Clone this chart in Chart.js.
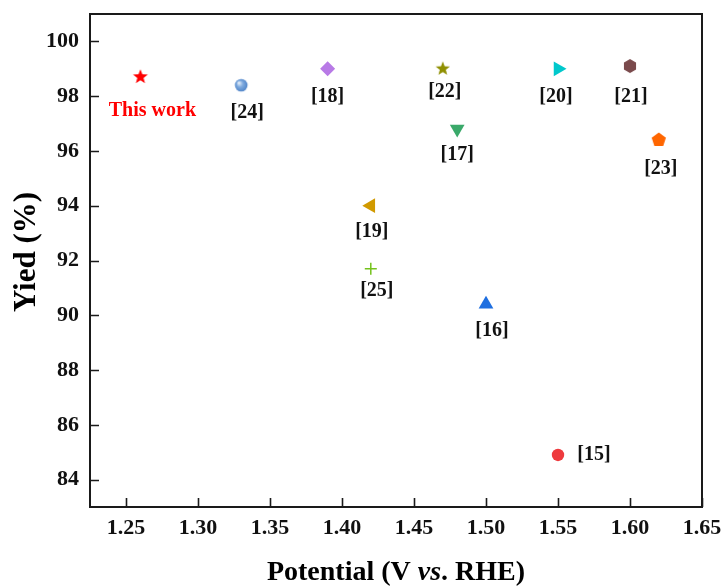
<!DOCTYPE html>
<html>
<head>
<meta charset="utf-8">
<script src="https://cdn.jsdelivr.net/npm/chart.js@4.4.0/dist/chart.umd.min.js"></script>
<style>
  html, body { margin: 0; padding: 0; background: #fff; }
  #wrap { width: 726px; height: 588px; }
</style>
</head>
<body>
<div id="wrap"><canvas id="yieldChart"></canvas></div>
<script>
// referencias comparadas: potencial vs rendimiento
const refLabels = ['This work', '[24]', '[18]', '[22]', '[17]', '[19]', '[25]', '[16]', '[20]', '[15]', '[21]', '[23]'];
const potentials = [1.26, 1.33, 1.39, 1.47, 1.48, 1.42, 1.42, 1.50, 1.55, 1.55, 1.60, 1.62];
const yields = [98.7, 98.4, 99.0, 99.0, 96.8, 94.0, 91.7, 90.4, 99.0, 84.9, 99.1, 96.4];
const xTicks = [1.25, 1.30, 1.35, 1.40, 1.45, 1.50, 1.55, 1.60, 1.65];
const yTicks = [84, 86, 88, 90, 92, 94, 96, 98, 100];

const FONT = "'Liberation Serif', 'Times New Roman', serif";

// marcadores dibujados a mano
const makeMarker = (size, draw) => {
    const c = document.createElement('canvas');
    c.width = size;
    c.height = size;
    draw(c.getContext('2d'), size / 2);
    return c;
}
const polygon = (ctx, c, n, r, color) => {
    ctx.beginPath();
    for (let i = 0; i < n; i++) {
        const a = -Math.PI / 2 + i * 2 * Math.PI / n;
        ctx.lineTo(c + r * Math.cos(a), c + r * Math.sin(a));
    }
    ctx.closePath();
    ctx.fillStyle = color;
    ctx.fill();
}
const star = (color, r) => makeMarker(20, (ctx, c) => {
    ctx.beginPath();
    for (let i = 0; i < 10; i++) {
        const a = -Math.PI / 2 + i * Math.PI / 5;
        const rr = i % 2 === 0 ? r : r * 0.42;
        ctx.lineTo(c + rr * Math.cos(a), c + rr * Math.sin(a));
    }
    ctx.closePath();
    ctx.fillStyle = color;
    ctx.fill();
});
const sphere = makeMarker(16, (ctx, c) => {
    const g = ctx.createRadialGradient(c - 2.5, c - 2.5, 0.5, c, c, 6.5);
    g.addColorStop(0, '#e4eefa');
    g.addColorStop(0.45, '#7eaade');
    g.addColorStop(1, '#4f84c8');
    ctx.beginPath();
    ctx.arc(c, c, 6.3, 0, 2 * Math.PI);
    ctx.fillStyle = g;
    ctx.fill();
});
const hexagon = makeMarker(18, (ctx, c) => polygon(ctx, c, 6, 7, '#7a4a4c'));
const pentagon = makeMarker(18, (ctx, c) => polygon(ctx, c, 5, 7.5, '#ff6600'));

const pointStyles = [star('#ff0000', 7.8), sphere, 'rectRot', star('#8f8f00', 7.5), 'triangle', 'triangle', 'cross', 'triangle', 'triangle', 'circle', hexagon, pentagon];
const rotations = [0, 0, 0, 0, 180, 270, 0, 0, 90, 0, 0, 0];
const radii = [7, 6, 7.5, 7, 8.5, 8.5, 6, 8.5, 8.5, 6.2, 7, 7];
const colors = ['#ff0000', '#6a9ad6', '#b87ae6', '#8f8f00', '#3aa96a', '#d19a00', '#74c21c', '#1f6fe0', '#00c8cc', '#ee3a3e', '#7a4a4c', '#ff6600'];
// desplazamiento de cada etiqueta respecto al punto
const labelOffsets = [[12, 34], [6, 28], [0, 28], [2, 23], [0, 26], [1, 26], [6, 22], [6, 27], [-2, 28], [36, 0], [1, 31], [2, 29]];

const points = potentials.map((p, i) => ({ x: p, y: yields[i] }));

// marco completo y ticks hacia adentro
const framePlugin = {
    id: 'frame',
    afterDraw(chart) {
        const { ctx, chartArea: a, scales } = chart;
        ctx.save();
        ctx.strokeStyle = '#1a1a1a';
        ctx.lineWidth = 2;
        ctx.strokeRect(a.left, a.top, a.right - a.left, a.bottom - a.top);
        ctx.lineWidth = 1.6;
        ctx.beginPath();
        xTicks.forEach(v => {
            const px = Math.round(scales.x.getPixelForValue(v)) + 0.5;
            ctx.moveTo(px, a.bottom);
            ctx.lineTo(px, a.bottom - 9);
        });
        yTicks.forEach(v => {
            const py = Math.round(scales.y.getPixelForValue(v)) + 0.5;
            ctx.moveTo(a.left, py);
            ctx.lineTo(a.left + 9, py);
        });
        ctx.stroke();

        // titulos de los ejes
        ctx.fillStyle = '#000';
        ctx.textBaseline = 'alphabetic';
        const parts = [
            ['bold', 'Potential (V '],
            ['italic bold', 'vs'],
            ['bold', '. RHE)']
        ];
        let total = 0;
        parts.forEach(p => {
            ctx.font = p[0] + ' 28px ' + FONT;
            total += ctx.measureText(p[1]).width;
        });
        let x = (a.left + a.right) / 2 - total / 2;
        parts.forEach(p => {
            ctx.font = p[0] + ' 28px ' + FONT;
            ctx.fillText(p[1], x, 580);
            x += ctx.measureText(p[1]).width;
        });

        ctx.translate(27, 252);
        ctx.rotate(-Math.PI / 2);
        ctx.font = 'bold 31px ' + FONT;
        ctx.textAlign = 'center';
        ctx.textBaseline = 'middle';
        ctx.fillText('Yied (%)', 0, 0);
        ctx.restore();
    }
}

const labelPlugin = {
    id: 'pointLabels',
    afterDatasetsDraw(chart) {
        const { ctx } = chart;
        const meta = chart.getDatasetMeta(0);
        ctx.save();
        ctx.textAlign = 'center';
        ctx.textBaseline = 'middle';
        meta.data.forEach((el, i) => {
            const [dx, dy] = labelOffsets[i];
            ctx.font = 'bold 20px ' + FONT;
            ctx.fillStyle = i === 0 ? '#ff0000' : '#111';
            ctx.fillText(refLabels[i], el.x + dx, el.y + dy);
        });
        ctx.restore();
    }
}

new Chart('yieldChart', {
    type: 'scatter',
    data: {
        datasets: [{
            data: points,
            pointStyle: pointStyles,
            rotation: rotations,
            pointRadius: radii,
            pointHoverRadius: radii,
            backgroundColor: colors,
            borderColor: colors,
            borderWidth: pointStyles.map(s => s === 'cross' ? 1.5 : 0)
        }]
    },
    options: {
        responsive: true,
        maintainAspectRatio: false,
        animation: false,
        layout: { padding: { top: 14, right: 24, left: 0, bottom: 0 } },
        plugins: {
            legend: { display: false },
            tooltip: { enabled: false }
        },
        scales: {
            x: {
                type: 'linear',
                min: 1.225,
                max: 1.65,
                afterBuildTicks: s => { s.ticks = xTicks.map(v => ({ value: v })); },
                afterFit: s => { s.height = 81; s.paddingLeft = 0; s.paddingRight = 0; },
                grid: { display: false, drawTicks: false },
                border: { display: false },
                ticks: {
                    padding: 8,
                    color: '#111',
                    font: { family: FONT, size: 22, weight: 'bold' },
                    callback: v => v.toFixed(2)
                }
            },
            y: {
                min: 83,
                max: 101,
                afterBuildTicks: s => { s.ticks = yTicks.map(v => ({ value: v })); },
                afterFit: s => { s.width = 90; s.paddingTop = 0; s.paddingBottom = 0; },
                grid: { display: false, drawTicks: false },
                border: { display: false },
                ticks: {
                    padding: 11,
                    color: '#111',
                    font: { family: FONT, size: 22, weight: 'bold' },
                    callback: v => String(v)
                }
            }
        }
    },
    plugins: [framePlugin, labelPlugin]
});
</script>
</body>
</html>
